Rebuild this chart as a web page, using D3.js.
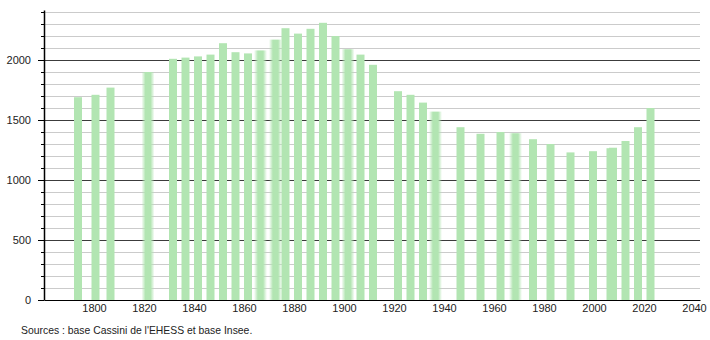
<!DOCTYPE html>
<html>
<head>
<meta charset="utf-8">
<script src="https://cdn.jsdelivr.net/npm/d3@7"></script>
<style>
  body { margin: 0; background: #fff; }
  svg { font-family: "Liberation Sans", Arial, sans-serif; }
</style>
</head>
<body>
<div id="chart"></div>
<script>
// census years and population
var years = [1793, 1800, 1806, 1821, 1831, 1836, 1841, 1846, 1851, 1856, 1861, 1866, 1872, 1876,
  1881, 1886, 1891, 1896, 1901, 1906, 1911, 1921, 1926, 1931, 1936, 1946, 1954, 1962, 1968,
  1975, 1982, 1990, 1999, 2006, 2007, 2012, 2017, 2022];
var population = [1690, 1710, 1770, 1900, 2010, 2020, 2030, 2045, 2140, 2065, 2055, 2080, 2170, 2265,
  2220, 2260, 2310, 2200, 2090, 2045, 1960, 1740, 1710, 1645, 1570, 1440, 1385, 1400, 1390,
  1340, 1300, 1230, 1240, 1265, 1269, 1325, 1440, 1600];
// years drawn with a blurred bar
var blurred = [1821, 1866, 1872, 1901, 1936, 1968];
var xTicks = [1800, 1820, 1840, 1860, 1880, 1900, 1920, 1940, 1960, 1980, 2000, 2020, 2040];
var yTicks = [0, 500, 1000, 1500, 2000];
var source = "Sources : base Cassini de l'EHESS et base Insee.";

var width = 710, height = 340;
var barColor = "#b2e5b2";

var svg = d3.select("#chart").append("svg")
  .attr("width", width)
  .attr("height", height);

var x = d3.scaleLinear().domain([1779.4, 2041.8]).range([44, 700]);
var y = d3.scaleLinear().domain([0, 2416.7]).range([300, 10]);

// gradient for the blurred bars
var grad = svg.append("defs").append("linearGradient")
  .attr("id", "blur")
  .attr("x1", "0%").attr("x2", "100%").attr("y1", "0%").attr("y2", "0%");
grad.append("stop").attr("offset", "0%").attr("stop-color", barColor).attr("stop-opacity", 0);
grad.append("stop").attr("offset", "30%").attr("stop-color", barColor).attr("stop-opacity", 1);
grad.append("stop").attr("offset", "70%").attr("stop-color", barColor).attr("stop-opacity", 1);
grad.append("stop").attr("offset", "100%").attr("stop-color", barColor).attr("stop-opacity", 0);

// grid lines every 100
var grid = d3.range(100, 2401, 100);
svg.append("g")
  .selectAll("line")
  .data(grid)
  .enter().append("line")
    .attr("x1", 44)
    .attr("x2", 700)
    .attr("y1", function (d) { return Math.round(y(d)) + 0.5; })
    .attr("y2", function (d) { return Math.round(y(d)) + 0.5; })
    .attr("stroke", function (d) { return d % 500 === 0 ? "#3c3c3c" : "#cbcbcb"; })
    .attr("stroke-width", 1);

// bars
var data = years.map(function (yr, i) { return { year: yr, value: population[i] }; });
svg.append("g")
  .selectAll("rect")
  .data(data)
  .enter().append("rect")
    .attr("x", function (d) { return blurred.indexOf(d.year) >= 0 ? x(d.year) - 6.5 : x(d.year) - 4; })
    .attr("width", function (d) { return blurred.indexOf(d.year) >= 0 ? 13 : 8; })
    .attr("y", function (d) { return y(d.value); })
    .attr("height", function (d) { return y(0) - y(d.value); })
    .attr("fill", function (d) { return blurred.indexOf(d.year) >= 0 ? "url(#blur)" : barColor; });

// x axis
svg.append("g")
  .attr("transform", "translate(0,300)")
  .call(d3.axisBottom(x).tickValues(xTicks).tickFormat(d3.format("d")).tickSize(0).tickPadding(4))
  .call(function (g) {
    g.select(".domain").attr("stroke", "#000").attr("stroke-width", 1.2);
    g.selectAll("text").attr("font-size", 11).attr("fill", "#222").attr("font-family", null).attr("dx", -1.5);
  });

// y axis, minor ticks
svg.append("g")
  .attr("transform", "translate(44,0)")
  .call(d3.axisLeft(y).tickValues(d3.range(0, 2401, 100)).tickFormat("").tickSize(3).tickSizeOuter(0))
  .call(function (g) {
    g.select(".domain").attr("stroke", "#000").attr("stroke-width", 1.5);
    g.selectAll(".tick line").attr("stroke", "#000");
  });

// y axis, major ticks and labels
svg.append("g")
  .attr("transform", "translate(44,0)")
  .call(d3.axisLeft(y).tickValues(yTicks).tickFormat(d3.format("d")).tickSize(6).tickPadding(7))
  .call(function (g) {
    g.select(".domain").remove();
    g.selectAll(".tick line").attr("stroke", "#000");
    g.selectAll("text").attr("font-size", 11).attr("fill", "#222").attr("font-family", null);
  });

// source note
svg.append("text")
  .attr("x", 21)
  .attr("y", 334)
  .attr("font-size", 10.4)
  .attr("fill", "#222")
  .text(source);
</script>
</body>
</html>
